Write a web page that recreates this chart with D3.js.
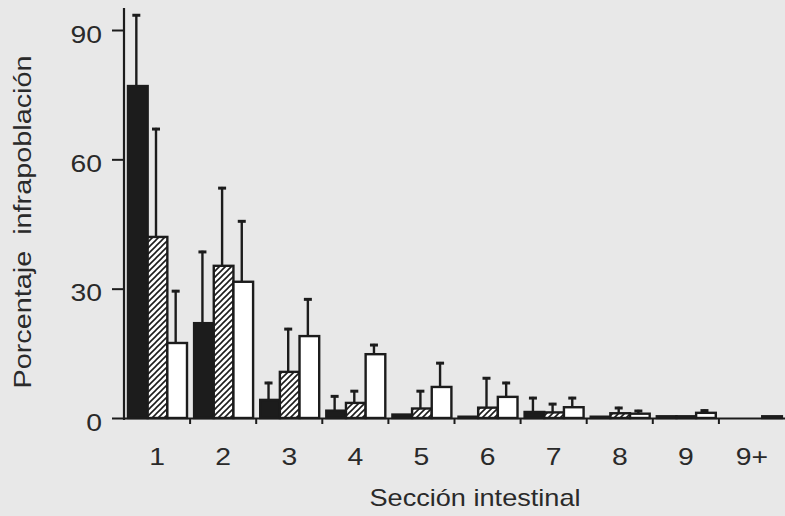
<!DOCTYPE html>
<html>
<head>
<meta charset="utf-8">
<script src="https://cdn.jsdelivr.net/npm/d3@7"></script>
<style>
  html, body { margin: 0; padding: 0; background: #e8e8e8; }
  svg { display: block; }
  text { font-family: "Liberation Sans", Arial, Helvetica, sans-serif; fill: #2a2a2a; }
</style>
</head>
<body>
<div id="chart"></div>
<script>
// Intestinal sections (x categories)
const sections = ["1", "2", "3", "4", "5", "6", "7", "8", "9", "9+"];

// Mean percentage of the infrapopulation per section, one array per group
const meanSolid   = [77.0, 22.0, 4.2, 1.7, 0.8, 0.3, 1.4, 0.3, 0.4, 0];
const meanHatched = [42.0, 35.3, 10.7, 3.5, 2.2, 2.4, 1.3, 1.1, 0.4, 0];
const meanOpen    = [17.4, 31.6, 19.0, 14.8, 7.2, 4.9, 2.5, 1.0, 1.2, 0.4];

// Upper error (standard deviation) per section, one array per group
const sdSolid   = [16.7, 16.8, 4.2, 3.6, 0, 0, 3.5, 0, 0, 0];
const sdHatched = [25.3, 18.3, 10.2, 3.0, 4.3, 7.1, 2.2, 1.5, 0, 0];
const sdOpen    = [12.3, 14.3, 8.8, 2.4, 5.8, 3.5, 2.4, 0.9, 0.8, 0];

// Y axis ticks
const yTicks = [0, 30, 60, 90];

const W = 785, H = 516;
const ink = "#1c1c1c";
const stretch = 1.18;   // wide lettering of the typeset labels

const svg = d3.select("#chart").append("svg")
  .attr("width", W).attr("height", H);

svg.append("rect").attr("width", W).attr("height", H).attr("fill", "#e8e8e8");

// Diagonal hatch fill
const defs = svg.append("defs");
const pat = defs.append("pattern")
  .attr("id", "hatch").attr("patternUnits", "userSpaceOnUse")
  .attr("width", 6).attr("height", 6);
pat.append("rect").attr("width", 6).attr("height", 6).attr("fill", "#ffffff");
pat.append("path")
  .attr("d", "M-1,1 l2,-2 M0,6 l6,-6 M5,7 l2,-2")
  .attr("stroke", ink).attr("stroke-width", 1.6);

const x = d3.scaleBand().domain(sections).range([124, 785]);
const inner = d3.scaleBand().domain([0, 1, 2]).range([4, 63]);
const y = d3.scaleLinear().domain([0, 90]).range([418, 30]);

const groups = [
  { mean: meanSolid,   sd: sdSolid,   fill: ink },
  { mean: meanHatched, sd: sdHatched, fill: "url(#hatch)" },
  { mean: meanOpen,    sd: sdOpen,    fill: "#ffffff" }
];

const rows = [];
groups.forEach((g, gi) => {
  sections.forEach((s, si) => {
    rows.push({ s, gi, v: g.mean[si], e: g.sd[si], fill: g.fill });
  });
});

const plot = svg.append("g");
const cx = d => x(d.s) + inner(d.gi) + inner.bandwidth() / 2 - 1.5;

// Error bars (upper whisker only)
const errRows = rows.filter(d => d.e > 0);
plot.selectAll("line.err").data(errRows).join("line")
  .attr("class", "err")
  .attr("x1", cx).attr("x2", cx)
  .attr("y1", d => y(d.v))
  .attr("y2", d => y(d.v + d.e))
  .attr("stroke", ink).attr("stroke-width", 2.4);
plot.selectAll("line.cap").data(errRows).join("line")
  .attr("class", "cap")
  .attr("x1", d => cx(d) - 4)
  .attr("x2", d => cx(d) + 4)
  .attr("y1", d => y(d.v + d.e) + 1.2)
  .attr("y2", d => y(d.v + d.e) + 1.2)
  .attr("stroke", ink).attr("stroke-width", 3);

// Bars
plot.selectAll("rect.bar").data(rows.filter(d => d.v > 0)).join("rect")
  .attr("class", "bar")
  .attr("x", d => x(d.s) + inner(d.gi))
  .attr("y", d => y(d.v))
  .attr("width", inner.bandwidth())
  .attr("height", d => y(0) - y(d.v))
  .attr("fill", d => d.fill)
  .attr("stroke", ink).attr("stroke-width", 2.4);

// X axis: baseline, boundary ticks and centred labels
const xAxis = svg.append("g").attr("transform", `translate(0,${y(0)})`)
  .call(d3.axisBottom(x).tickSize(0).tickSizeOuter(0).tickPadding(47));
xAxis.select(".domain").attr("stroke", ink).attr("stroke-width", 2.2);
xAxis.selectAll(".tick text")
  .attr("font-size", 24).attr("dy", "0")
  .attr("transform", `scale(${stretch},1)`)
  .style("fill", "#2a2a2a");
xAxis.selectAll("line.sep").data(sections.slice(1)).join("line")
  .attr("class", "sep")
  .attr("x1", d => x(d)).attr("x2", d => x(d))
  .attr("y1", 0).attr("y2", 6)
  .attr("stroke", ink).attr("stroke-width", 2);

// Y axis
const yAxis = svg.append("g").attr("transform", "translate(124,0)")
  .call(d3.axisLeft(y).tickValues(yTicks).tickSize(12).tickSizeOuter(0));
yAxis.select(".domain").attr("d", `M0,8V${y(0) + 2}`)
  .attr("stroke", ink).attr("stroke-width", 2.2);
yAxis.selectAll(".tick line").attr("stroke", ink).attr("stroke-width", 2);
yAxis.selectAll(".tick text")
  .attr("font-size", 24)
  .attr("x", -22 / stretch)
  .attr("dy", "0.5em")
  .attr("transform", `scale(${stretch},1)`)
  .style("fill", "#2a2a2a");

// Axis titles
svg.append("text")
  .attr("transform", `translate(475,506) scale(${stretch},1)`)
  .attr("text-anchor", "middle").attr("font-size", 23)
  .text("Sección intestinal");

svg.append("text")
  .attr("transform", `translate(31,222) rotate(-90) scale(1.2,1)`)
  .attr("text-anchor", "middle").attr("font-size", 24)
  .attr("xml:space", "preserve")
  .text("Porcentaje  infrapoblación");
</script>
</body>
</html>
